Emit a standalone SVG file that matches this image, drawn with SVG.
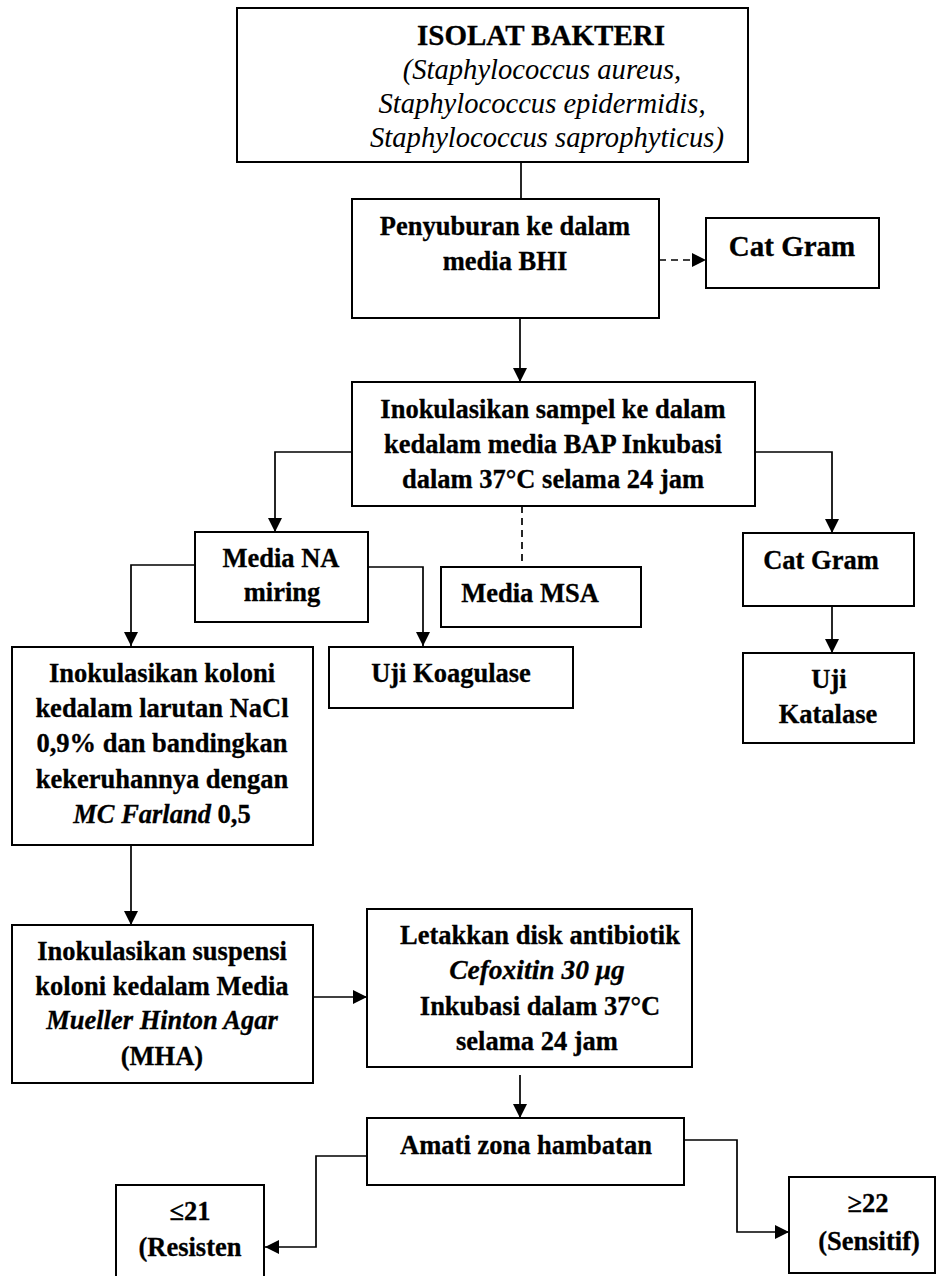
<svg xmlns="http://www.w3.org/2000/svg" width="936" height="1276" viewBox="0 0 936 1276">
<defs>
<marker id="ah" markerUnits="userSpaceOnUse" markerWidth="14" markerHeight="14" refX="14" refY="7" orient="auto">
<path d="M0,0 L14,7 L0,14 Z" fill="#000"/>
</marker>
</defs>
<style>
.box{fill:#fff;stroke:#000;stroke-width:2}
.t{font-size:26.5px;font-weight:bold;text-anchor:middle;fill:#000;stroke:#000;stroke-width:0.3}
.ti{font-size:28.6px;font-style:italic;font-weight:normal;text-anchor:middle;fill:#000}
.big{font-size:29px}
.it{font-style:italic}
.ln{fill:none;stroke:#000;stroke-width:1.7}
.arr{marker-end:url(#ah)}
.dash{stroke-dasharray:7 5}
</style>
<rect width="936" height="1276" fill="#fff"/>
<g id="connectors">
<line class="ln" x1="521" y1="162" x2="521" y2="199"/>
<line class="ln dash arr" x1="659" y1="260" x2="706" y2="260"/>
<line class="ln arr" x1="520" y1="318" x2="520" y2="382"/>
<path class="ln arr" d="M352,452 H275 V532"/>
<path class="ln arr" d="M755,452 H832 V533"/>
<line class="ln dash" x1="522" y1="506" x2="522" y2="567"/>
<path class="ln arr" d="M195,565 H131 V646"/>
<path class="ln arr" d="M368,567 H423 V646"/>
<line class="ln arr" x1="832" y1="606" x2="832" y2="653"/>
<line class="ln arr" x1="131" y1="845" x2="131" y2="925"/>
<line class="ln arr" x1="313" y1="997" x2="367" y2="997"/>
<line class="ln arr" x1="520" y1="1075" x2="520" y2="1118"/>
<path class="ln arr" d="M367,1156 H316 V1247 H265"/>
<path class="ln arr" d="M684,1140 H737 V1232 H789"/>
</g>
<g font-family="Liberation Serif, Times New Roman, Tinos, Times, DejaVu Serif, serif">
<g id="isolat">
<rect class="box" x="237" y="8" width="511" height="154"/>
<text class="t big" x="541" y="45">ISOLAT BAKTERI</text>
<text class="ti" x="542" y="79">(Staphylococcus aureus,</text>
<text class="ti" x="542" y="113">Staphylococcus epidermidis,</text>
<text class="ti" x="547" y="147">Staphylococcus saprophyticus)</text>
</g>
<g id="bhi">
<rect class="box" x="352" y="199" width="307" height="119"/>
<text class="t" x="505" y="235">Penyuburan ke dalam</text>
<text class="t" x="505" y="270">media BHI</text>
</g>
<g id="catgram1">
<rect class="box" x="706" y="218" width="173" height="70"/>
<text class="t big" x="792" y="256">Cat Gram</text>
</g>
<g id="bap">
<rect class="box" x="352" y="382" width="403" height="124"/>
<text class="t" x="553" y="418">Inokulasikan sampel ke dalam</text>
<text class="t" x="553" y="453">kedalam media BAP Inkubasi</text>
<text class="t" x="553" y="488">dalam 37°C selama 24 jam</text>
</g>
<g id="na">
<rect class="box" x="195" y="532" width="173" height="90"/>
<text class="t" x="281" y="567">Media NA</text>
<text class="t" x="282" y="601">miring</text>
</g>
<g id="msa">
<rect class="box" x="441" y="567" width="200" height="60"/>
<text class="t" x="530" y="602">Media MSA</text>
</g>
<g id="catgram2">
<rect class="box" x="743" y="533" width="171" height="73"/>
<text class="t" x="821" y="569">Cat Gram</text>
</g>
<g id="katalase">
<rect class="box" x="743" y="653" width="171" height="90"/>
<text class="t" x="829" y="688">Uji</text>
<text class="t" x="828" y="723">Katalase</text>
</g>
<g id="nacl">
<rect class="box" x="12" y="647" width="301" height="198"/>
<text class="t" x="162" y="682">Inokulasikan koloni</text>
<text class="t" x="162" y="717">kedalam larutan NaCl</text>
<text class="t" x="162" y="752">0,9% dan bandingkan</text>
<text class="t" x="162" y="788">kekeruhannya dengan</text>
<text class="t" x="162" y="823"><tspan class="it">MC Farland</tspan> 0,5</text>
</g>
<g id="koagulase">
<rect class="box" x="329" y="647" width="244" height="61"/>
<text class="t" x="451" y="682">Uji Koagulase</text>
</g>
<g id="mha">
<rect class="box" x="12" y="925" width="301" height="158"/>
<text class="t" x="162" y="960">Inokulasikan suspensi</text>
<text class="t" x="162" y="995">koloni kedalam Media</text>
<text class="t it" x="162" y="1029">Mueller Hinton Agar</text>
<text class="t" x="162" y="1065">(MHA)</text>
</g>
<g id="cefoxitin">
<rect class="box" x="367" y="909" width="325" height="158"/>
<text class="t" x="540" y="944">Letakkan disk antibiotik</text>
<text class="t it" x="537" y="979" style="font-size:27.5px">Cefoxitin 30 μg</text>
<text class="t" x="540" y="1015">Inkubasi dalam 37°C</text>
<text class="t" x="537" y="1050">selama 24 jam</text>
</g>
<g id="amati">
<rect class="box" x="367" y="1118" width="317" height="67"/>
<text class="t" x="526" y="1154">Amati zona hambatan</text>
</g>
<g id="resisten">
<rect class="box" x="116" y="1185" width="148" height="100"/>
<text class="t" x="190" y="1220">≤21</text>
<text class="t" x="190" y="1256">(Resisten</text>
</g>
<g id="sensitif">
<rect class="box" x="789" y="1177" width="146" height="96"/>
<text class="t" x="868" y="1212">≥22</text>
<text class="t" x="869" y="1250">(Sensitif)</text>
</g>
</g>
</svg>
